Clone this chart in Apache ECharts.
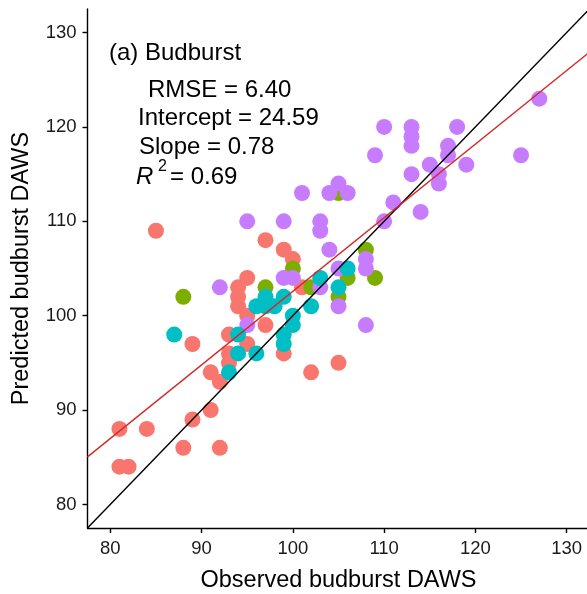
<!DOCTYPE html>
<html><head><meta charset="utf-8">
<script src="https://cdn.jsdelivr.net/npm/echarts@6/dist/echarts.min.js"></script>
<style>html,body{margin:0;padding:0;background:#fff}#c{width:587px;height:594px}</style>
</head><body><div id="c"></div>
<script>
// Tick labels
const xTicks = [80, 90, 100, 110, 120, 130];
const yTicks = [80, 90, 100, 110, 120, 130];
const axisRange = [77.5, 132.5];

// Group 1 (red)
const redObs  = [81, 84, 81, 82, 88, 92, 89, 91, 85, 89, 93, 93, 93, 91, 92, 95, 97, 99, 102, 105, 97, 99, 100, 95, 94, 94, 94, 95, 101];
const redPred = [88, 88, 84, 84, 86, 86, 89, 90, 109, 97, 98, 96, 95, 94, 93, 97, 99, 96, 94, 95, 108, 107, 106, 104, 103, 102, 101, 100, 103];
// Group 2 (green)
const greenObs  = [88, 97, 100, 102, 106, 108, 109, 105, 105];
const greenPred = [102, 103, 105, 103, 104, 107, 104, 102, 113];
// Group 4 (purple)
const purpleObs  = [127, 110, 113, 113, 113, 118, 109, 117, 117, 115, 119, 125, 116, 116, 113, 111, 114, 110, 101, 104, 105, 106, 103, 103, 95, 99, 104, 105, 108, 108, 99, 100, 92, 95, 105, 108, 103];
const purplePred = [123, 120, 120, 119, 118, 120, 117, 118, 117, 116, 116, 117, 115, 114, 115, 112, 111, 110, 113, 113, 114, 113, 110, 109, 110, 110, 107, 105, 106, 105, 104, 104, 103, 99, 101, 99, 103];
// Group 3 (cyan)
const cyanObs  = [87, 94, 94, 96, 93, 99, 99, 100, 100, 102, 96, 97, 98, 99, 97, 103, 105, 106];
const cyanPred = [98, 98, 96, 96, 94, 98, 97, 100, 99, 101, 101, 102, 101, 102, 101, 104, 103, 105];

// Fit statistics
const fitIntercept = 24.59;
const fitSlope = 0.78;
const statLabels = ['RMSE = 6.40', 'Intercept = 24.59', 'Slope = 0.78'];
const r2Value = '0.69';

const FONT = '"Liberation Sans", Arial, Helvetica, sans-serif';
const pairs = (a, b) => a.map((v, i) => [v, b[i]]);

const chart = echarts.init(document.getElementById('c'), null, {renderer: 'canvas'});

function scatter(name, xs, ys, color) {
  return {
    name, type: 'scatter', data: pairs(xs, ys), symbol: 'circle', symbolSize: 16,
    itemStyle: {color, opacity: 1}, z: 2, silent: true, animation: false
  };
}

const oneToOne = axisRange.map(v => [v, v]);
const fitLine = axisRange.map(v => [v, fitIntercept + fitSlope * v]);

function axisCommon(ticks, margin) {
  return {
    type: 'value', min: axisRange[0], max: axisRange[1],
    splitLine: {show: false},
    axisLine: {show: true, lineStyle: {color: '#000', width: 1.4}},
    axisTick: {show: true, customValues: ticks, length: 5, lineStyle: {color: '#000', width: 1.4}},
    axisLabel: {customValues: ticks, fontSize: 18.5, color: '#1a1a1a', fontFamily: FONT, margin: margin},
    nameLocation: 'middle',
    nameTextStyle: {fontSize: 23.5, color: '#000', fontFamily: FONT}
  };
}

const txt = (t, x, y, extra) => ({
  type: 'text', x: x, y: y,
  style: Object.assign({text: t, fontSize: 24, fill: '#000', fontFamily: FONT, verticalAlign: 'middle', align: 'left'}, extra || {}),
  z: 10
});

chart.setOption({
  animation: false,
  backgroundColor: '#fff',
  grid: {left: 87.5, top: 9, width: 502, height: 519, containLabel: false, outerBoundsMode: 'none'},
  xAxis: Object.assign(axisCommon(xTicks, 11), {name: 'Observed budburst DAWS', nameGap: 41}),
  yAxis: Object.assign(axisCommon(yTicks, 11), {name: 'Predicted budburst DAWS', nameGap: 54}),
  series: [
    scatter('A', redObs, redPred, '#F8766D'),
    scatter('B', greenObs, greenPred, '#7CAE00'),
    scatter('D', purpleObs, purplePred, '#C77CFF'),
    scatter('C', cyanObs, cyanPred, '#00BFC4'),
    {type: 'line', data: oneToOne, showSymbol: false, symbol: 'none', lineStyle: {color: '#000', width: 1.4}, z: 5, silent: true},
    {type: 'line', data: fitLine, showSymbol: false, symbol: 'none', lineStyle: {color: '#d42a2a', width: 1.4}, z: 5, silent: true}
  ],
  graphic: [
    txt('(a) Budburst', 109, 53),
    txt(statLabels[0], 148, 90),
    txt(statLabels[1], 138, 118),
    txt(statLabels[2], 139, 147),
    txt('R', 136, 177, {fontStyle: 'italic'}),
    txt('2', 158, 167, {fontSize: 16}),
    txt('= ' + r2Value, 170, 177)
  ]
});
</script>
</body></html>
